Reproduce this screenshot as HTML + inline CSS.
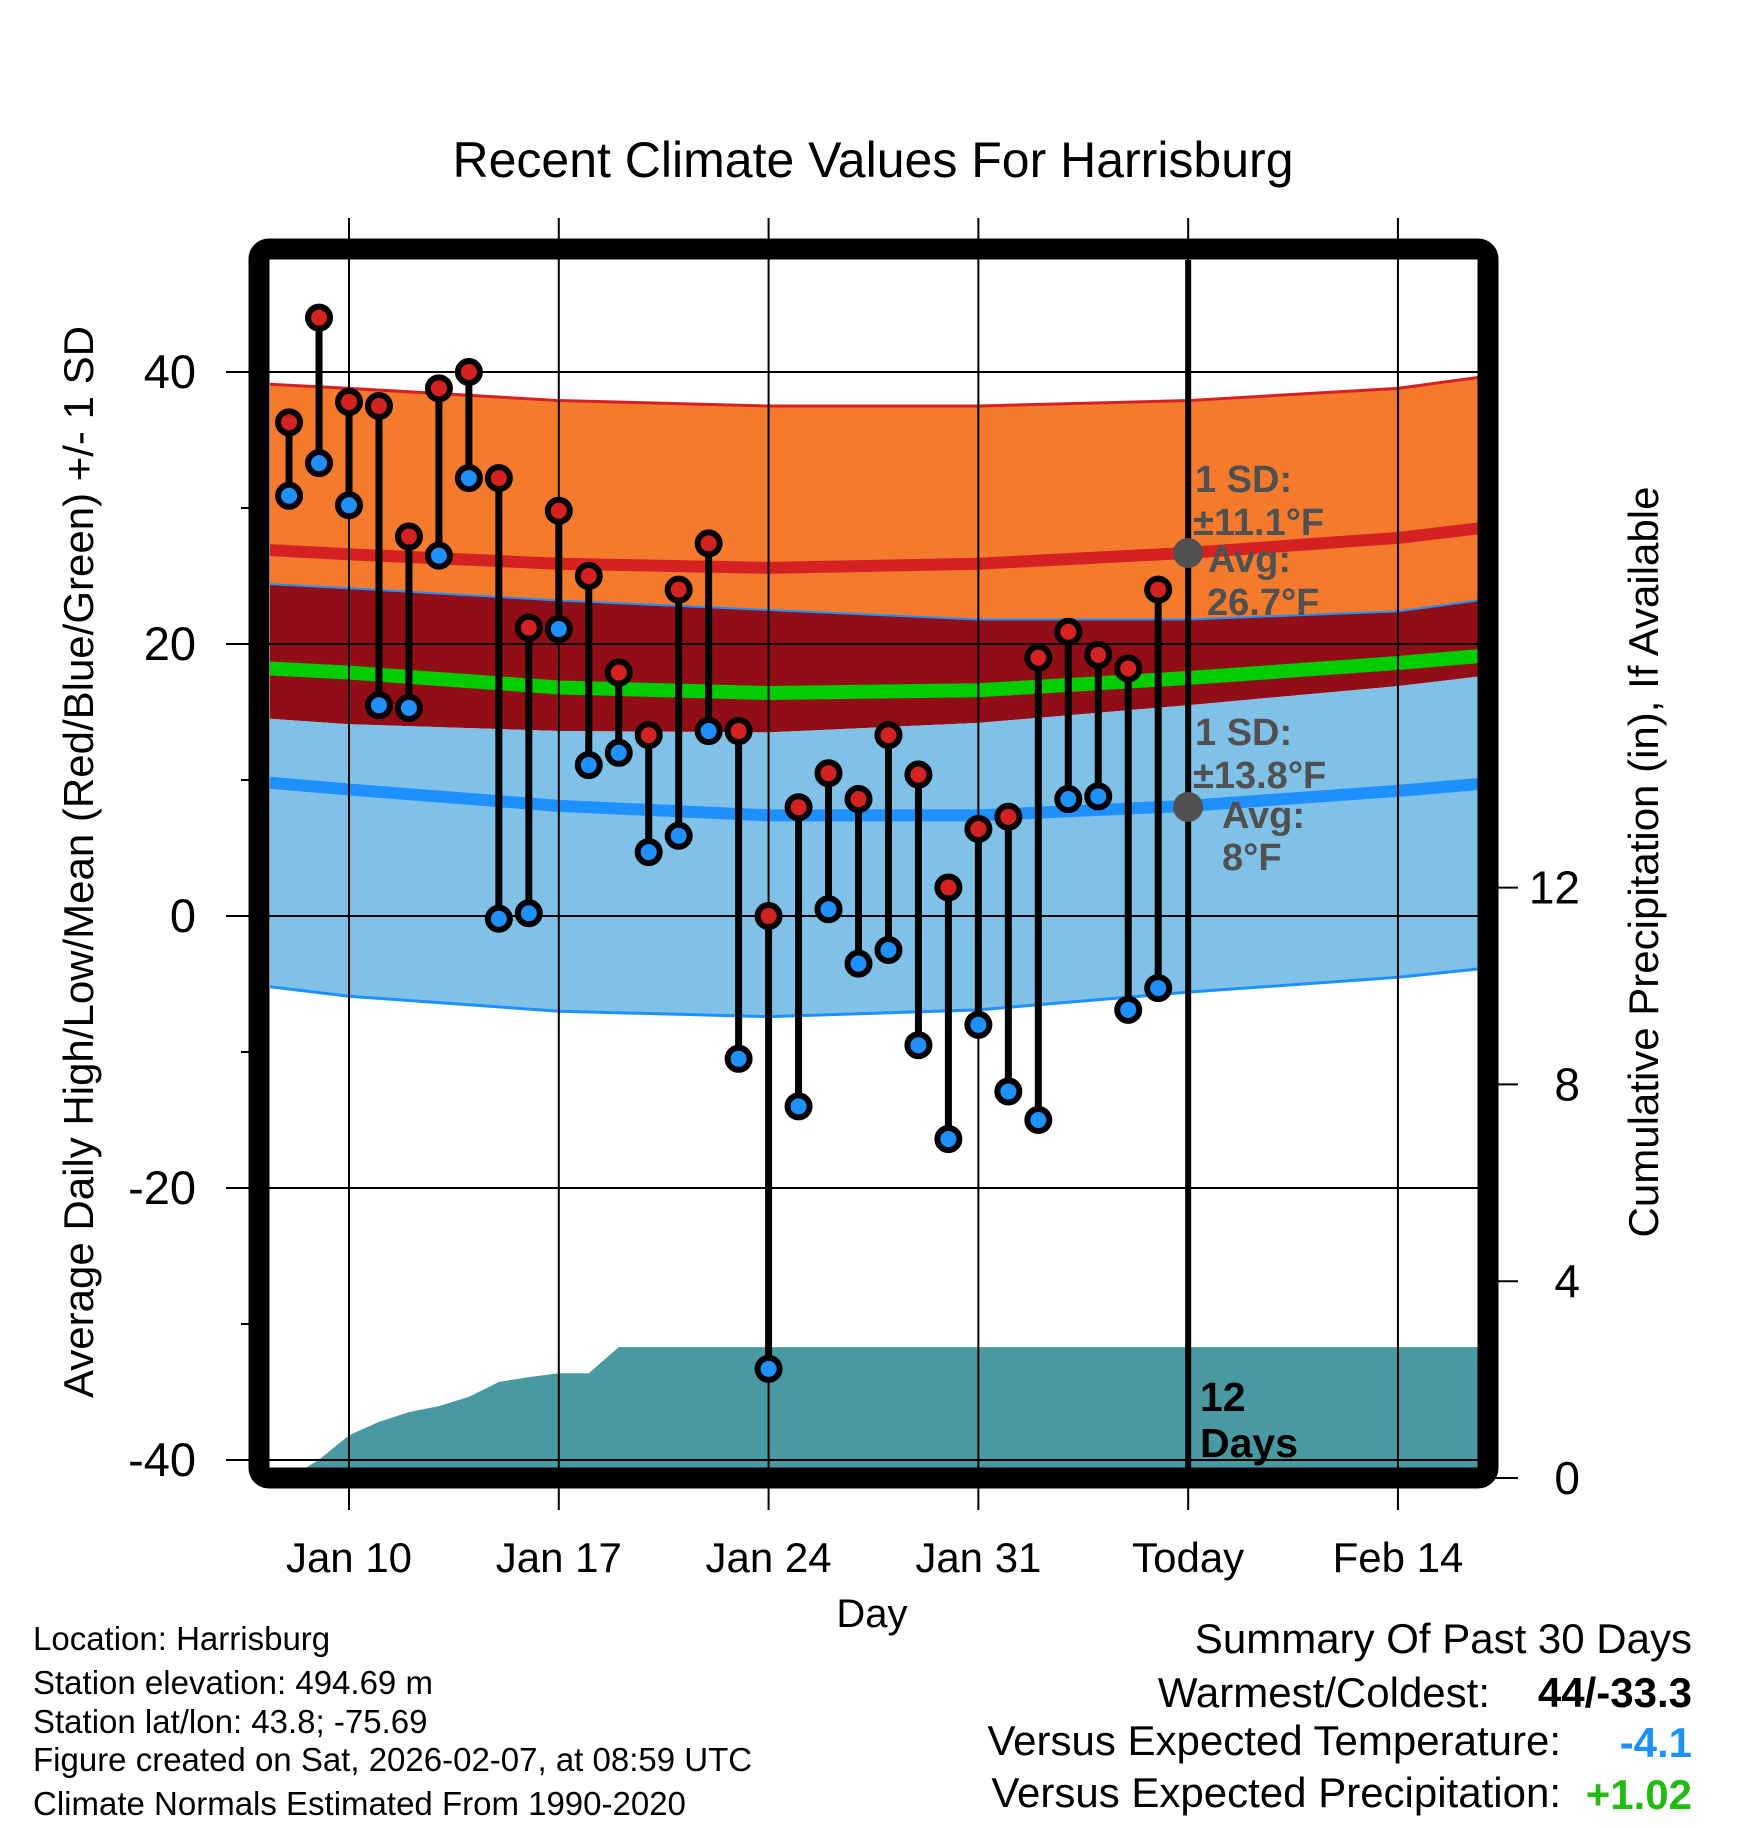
<!DOCTYPE html>
<html><head><meta charset="utf-8"><style>
html,body{margin:0;padding:0;background:#fff;}
svg{display:block;font-family:"Liberation Sans",Arial,sans-serif;}
</style></head><body>
<svg id="chart" width="1748" height="1828" viewBox="0 0 1748 1828" xmlns="http://www.w3.org/2000/svg">
<defs><clipPath id="plotclip"><rect x="270" y="260" width="1208" height="1208"/></clipPath></defs>
<text x="873" y="177" font-size="50" text-anchor="middle">Recent Climate Values For Harrisburg</text>
<g id="bands" clip-path="url(#plotclip)"></g>
<g id="grid"></g>
<g id="marks"></g>
<g id="frame"></g>
<g id="annot" font-weight="bold" font-size="38" fill="#505050">
<circle cx="1188" cy="553" r="15" fill="#505050"/>
<circle cx="1188" cy="807" r="15" fill="#505050"/>
<text x="1195" y="492">1 SD:</text>
<text x="1193" y="535">±11.1°F</text>
<text x="1208" y="572">Avg:</text>
<text x="1207" y="615">26.7°F</text>
<text x="1195" y="745">1 SD:</text>
<text x="1193" y="788">±13.8°F</text>
<text x="1222" y="828">Avg:</text>
<text x="1222" y="870">8°F</text>
<text x="1200" y="1411" fill="#000" font-size="41">12</text>
<text x="1200" y="1457" fill="#000" font-size="41">Days</text>
</g>
<text transform="translate(93,862) rotate(-90)" font-size="42" text-anchor="middle">Average Daily High/Low/Mean (Red/Blue/Green) +/- 1 SD</text>
<text transform="translate(1658,862) rotate(-90)" font-size="42" text-anchor="middle">Cumulative Precipitation (in), If Available</text>
<text x="872" y="1627" font-size="40" text-anchor="middle">Day</text>
<g font-size="33">
<text x="33" y="1650">Location: Harrisburg</text>
<text x="33" y="1694">Station elevation: 494.69 m</text>
<text x="33" y="1733">Station lat/lon: 43.8; -75.69</text>
<text x="33" y="1771">Figure created on Sat, 2026-02-07, at 08:59 UTC</text>
<text x="33" y="1815">Climate Normals Estimated From 1990-2020</text>
</g>
<g font-size="42">
<text x="1692" y="1653" text-anchor="end">Summary Of Past 30 Days</text>
<text x="1490" y="1707" text-anchor="end">Warmest/Coldest:</text>
<text x="1692" y="1707" text-anchor="end" font-weight="bold">44/-33.3</text>
<text x="1561" y="1755" text-anchor="end">Versus Expected Temperature:</text>
<text x="1692" y="1757" text-anchor="end" font-weight="bold" fill="#1e90ff">-4.1</text>
<text x="1561" y="1807" text-anchor="end">Versus Expected Precipitation:</text>
<text x="1692" y="1809" text-anchor="end" font-weight="bold" fill="#22bb11">+1.02</text>
</g>
</svg>
<script>
// Data
const highs = [36.3,44,37.8,37.5,27.9,38.8,40,32.2,21.2,29.8,25,17.9,13.3,24,27.4,13.6,0,8,10.5,8.6,13.3,10.4,2.1,6.4,7.3,19,20.9,19.2,18.2,24];
const lows = [30.9,33.3,30.2,15.5,15.3,26.5,32.2,-0.2,0.2,21.1,11.1,12,4.7,5.9,13.6,-10.5,-33.3,-14,0.5,-3.5,-2.5,-9.5,-16.4,-8,-12.9,-15,8.6,8.8,-6.9,-5.3];
const precip = [0,0.37,0.87,1.14,1.34,1.46,1.65,1.95,2.05,2.13,2.13,2.66,2.66,2.66,2.66,2.66,2.66,2.66,2.66,2.66,2.66,2.66,2.66,2.66,2.66,2.66,2.66,2.66,2.66,2.66];
const firstDay = -2; // Jan 8 relative to Jan 10
const normDays = [-2.64,0,7,14,21,28,35,37.67];
const highTop = [39.1,38.8,37.9,37.5,37.5,37.9,38.8,39.6];
const highBot = [24.4,24.1,23.2,22.5,21.8,21.8,22.4,23.2];
const normHigh = [26.9,26.6,25.9,25.6,25.9,26.7,27.8,28.5];
const normMean = [18.2,17.9,16.8,16.4,16.6,17.5,18.6,19.1];
const lowTop = [14.5,14.1,13.6,13.5,14.2,15.5,16.9,17.6];
const normLow = [9.8,9.3,8.1,7.4,7.4,8.1,9.2,9.7];
const lowBot = [-5.2,-5.9,-7.0,-7.4,-6.9,-5.6,-4.5,-3.9];
const xTickDays = [0,7,14,21,28,35];
const xTickLabels = ["Jan 10","Jan 17","Jan 24","Jan 31","Today","Feb 14"];
const yTicks = [40,20,0,-20,-40];
const yMinor = [30,10,-10,-30];
const y2Ticks = [0,4,8,12];
const todayDay = 28;

const NS="http://www.w3.org/2000/svg";
const xs = d => 349 + d*29.97;
const ys = v => 916 - v*13.6;
const yp = p => 1478 - p*49.2;
function mk(tag, attrs, parent){const e=document.createElementNS(NS,tag);for(const k in attrs)e.setAttribute(k,attrs[k]);parent.appendChild(e);return e;}
const bands=document.getElementById('bands'),grid=document.getElementById('grid'),marks=document.getElementById('marks'),frame=document.getElementById('frame');
const pts = arr => arr.map((v,i)=>xs(normDays[i])+','+ys(v));
function area(top,bot,fill,name){const d='M'+pts(top).join(' L')+' L'+pts(bot).reverse().join(' L')+' Z';
 const e=mk('path',{d:d,fill:fill},bands);
 
 }
function line(arr,stroke,w,name){const e=mk('polyline',{points:pts(arr).join(' '),fill:'none',stroke:stroke,'stroke-width':w},bands);
 
 }
area(highTop,highBot,'#f47a2e','high-sd-band');
area(highBot,lowTop,'#920e16','overlap-band');
area(lowTop,lowBot,'#80c1e8','low-sd-band');
line(highTop,'#d42222',3,'high-band-top');
line(highBot,'#1e90ff',2,'high-band-bottom');
line(lowBot,'#1e90ff',3,'low-band-bottom');
line(normHigh,'#d42222',12,'normal-high-line');
line(normMean,'#00cc00',14,'normal-mean-line');
line(normLow,'#1e90ff',12,'normal-low-line');
// precip
{let d='M'+xs(-2.64)+','+yp(0);
 precip.forEach((p,i)=>{d+=' L'+xs(firstDay+i)+','+yp(p);});
 d+=' L'+xs(37.67)+','+yp(precip[precip.length-1])+' L'+xs(37.67)+','+yp(0)+' Z';
 const e=mk('path',{d:d,fill:'#4899a1'},bands);
 
 }
// grid
xTickDays.forEach((d,i)=>{
 const g=mk('line',{x1:xs(d),x2:xs(d),y1:218,y2:1510,stroke:'#000','stroke-width':2},grid);
 
 
 const t=mk('text',{x:xs(d),y:1572,'font-size':42,'text-anchor':'middle'},grid);
 t.textContent=xTickLabels[i];
 
 
});
yTicks.forEach(v=>{
 const g=mk('line',{x1:226,x2:1478,y1:ys(v),y2:ys(v),stroke:'#000','stroke-width':2},grid);
 
 
 const t=mk('text',{x:196,y:ys(v)+16,'font-size':47,'text-anchor':'end'},grid);
 t.textContent=String(v);
 
 
});
yMinor.forEach(v=>{
 const g=mk('line',{x1:241,x2:250,y1:ys(v),y2:ys(v),stroke:'#000','stroke-width':2},grid);
 
 
});
y2Ticks.forEach(p=>{
 const g=mk('line',{x1:1490,x2:1518,y1:yp(p),y2:yp(p),stroke:'#000','stroke-width':2},grid);
 
 
 const t=mk('text',{x:1580,y:yp(p)+16,'font-size':46,'text-anchor':'end'},grid);
 t.textContent=String(p);
 
 
});
{const t=mk('line',{x1:xs(todayDay),x2:xs(todayDay),y1:260,y2:1468,stroke:'#000','stroke-width':6},grid);
 
 }
// marks
highs.forEach((h,i)=>{
 const x=xs(firstDay+i), l=lows[i];
 const s=mk('line',{x1:x,x2:x,y1:ys(h),y2:ys(l),stroke:'#000','stroke-width':7},marks);
 
 
});
highs.forEach((h,i)=>{
 const x=xs(firstDay+i), l=lows[i];
 const a=mk('circle',{cx:x,cy:ys(l),r:11,fill:'#1e90ff',stroke:'#000','stroke-width':6},marks);
 
 
 const b=mk('circle',{cx:x,cy:ys(h),r:11,fill:'#d42222',stroke:'#000','stroke-width':6},marks);
 
 
});
{const f=mk('rect',{x:259,y:249,width:1229,height:1229,rx:10,fill:'none',stroke:'#000','stroke-width':21},frame);
 
 }
</script>
</body></html>
